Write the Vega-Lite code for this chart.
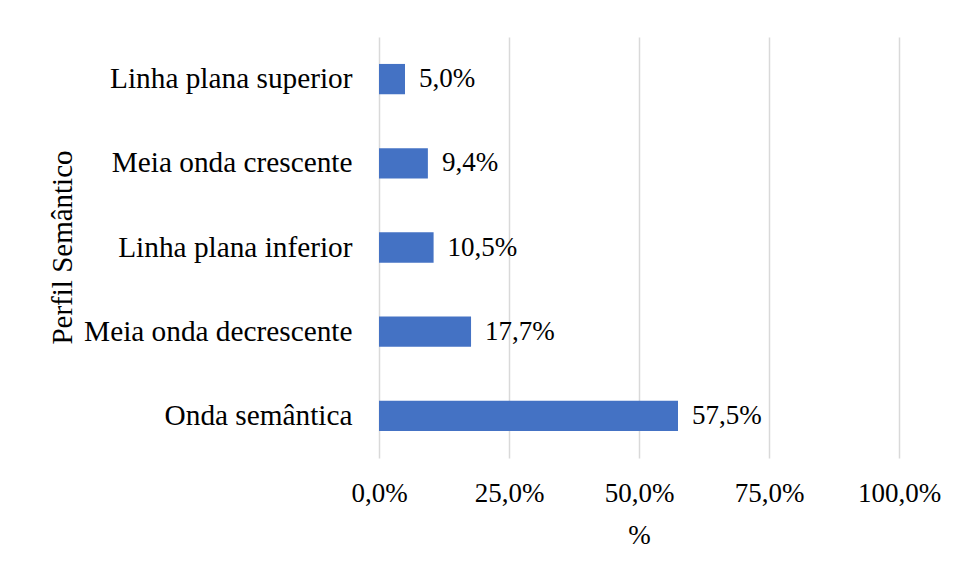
{
  "$schema": "https://vega.github.io/schema/vega-lite/v6.json",
  "width": 520,
  "height": 421,
  "autosize": {"type": "none"},
  "padding": {"left": 379, "top": 37, "right": 60, "bottom": 121},
  "background": "white",
  "data": {
    "values": [
      {"perfil": "Linha plana superior", "valor": 0.050},
      {"perfil": "Meia onda crescente", "valor": 0.094},
      {"perfil": "Linha plana inferior", "valor": 0.105},
      {"perfil": "Meia onda decrescente", "valor": 0.177},
      {"perfil": "Onda semântica", "valor": 0.575}
    ]
  },
  "encoding": {
    "y": {
      "field": "perfil",
      "type": "nominal",
      "sort": "x",
      "scale": {"paddingInner": 0.64, "paddingOuter": 0.32},
      "axis": {
        "title": "Perfil Semântico",
        "domain": false,
        "ticks": false,
        "labelLimit": 0,
        "labelPadding": 27,
        "labelFontSize": 29.3,
        "labelFont": "Liberation Serif",
        "labelColor": "#000000",
        "titleFont": "Liberation Serif",
        "titleFontSize": 29,
        "titleFontWeight": "normal",
        "titleColor": "#000000",
        "titleAngle": -90,
        "titleBaseline": "middle",
        "titleAlign": "center",
        "titleX": -317,
        "titleY": 210
      }
    },
    "x": {
      "field": "valor",
      "type": "quantitative",
      "scale": {"domain": [0, 1], "nice": false},
      "axis": {
        "title": "%",
        "format": ".1%",
        "values": [0, 0.25, 0.5, 0.75, 1],
        "domain": false,
        "ticks": false,
        "grid": true,
        "gridColor": "#d9d9d9",
        "gridWidth": 1.5,
        "labelFlush": false,
        "labelPadding": 35,
        "labelFontSize": 27,
        "labelFont": "Liberation Serif",
        "labelColor": "#000000",
        "labelBaseline": "middle",
        "titleFont": "Liberation Serif",
        "titleFontSize": 27,
        "titleFontWeight": "normal",
        "titleColor": "#000000",
        "titleBaseline": "middle",
        "titleX": 260,
        "titleY": 77
      }
    }
  },
  "layer": [
    {"mark": {"type": "bar", "color": "#4472C4"}},
    {
      "mark": {"type": "text", "align": "left", "baseline": "middle", "dx": 14, "font": "Liberation Serif", "fontSize": 27, "color": "#000000"},
      "encoding": {"text": {"field": "valor", "type": "quantitative", "format": ".1%"}}
    }
  ],
  "config": {
    "view": {"stroke": null},
    "locale": {"number": {"decimal": ",", "thousands": ".", "grouping": [3], "currency": ["", " €"]}}
  }
}
